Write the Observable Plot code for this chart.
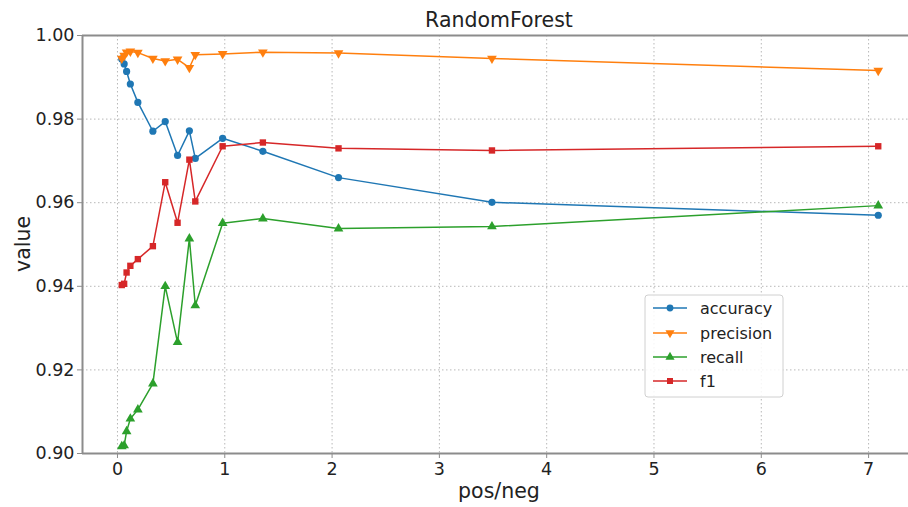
<!DOCTYPE html>
<html>
<head>
<meta charset="utf-8">
<script src="https://cdn.jsdelivr.net/npm/d3@7"></script>
<script src="https://cdn.jsdelivr.net/npm/@observablehq/plot@0.6"></script>
<style>
  html, body { margin: 0; padding: 0; background: #fff; }
  #chart { position: relative; width: 908px; height: 507px; overflow: hidden; }
  svg { font-family: "DejaVu Sans", sans-serif; }
</style>
</head>
<body>
<div id="chart"></div>
<script>
// ---- data ----
const ratios    = [0.04, 0.062, 0.085, 0.12, 0.19, 0.33, 0.445, 0.56, 0.67, 0.725, 0.98, 1.355, 2.06, 3.49, 7.09];
const accuracy  = [0.9944, 0.9932, 0.9914, 0.9884, 0.9840, 0.9771, 0.9794, 0.9713, 0.9772, 0.9706, 0.9754, 0.9723, 0.9660, 0.9601, 0.9570];
const precision = [0.9945, 0.9952, 0.9960, 0.9962, 0.9959, 0.9945, 0.9939, 0.9943, 0.9923, 0.9954, 0.9956, 0.9960, 0.9958, 0.9945, 0.9916];
const recall    = [0.9017, 0.9019, 0.9053, 0.9083, 0.9105, 0.9167, 0.9400, 0.9266, 0.9514, 0.9354, 0.9551, 0.9562, 0.9538, 0.9543, 0.9593];
const f1        = [0.9403, 0.9406, 0.9433, 0.9449, 0.9465, 0.9496, 0.9649, 0.9552, 0.9703, 0.9603, 0.9735, 0.9744, 0.9730, 0.9725, 0.9735];
const seriesNames = ["accuracy", "precision", "recall", "f1"];
const seriesColors = ["#1f77b4", "#ff7f0e", "#2ca02c", "#d62728"];
const xTicks = [0, 1, 2, 3, 4, 5, 6, 7];
const yTicks = [0.90, 0.92, 0.94, 0.96, 0.98, 1.00];
const titleText = "RandomForest";
const xLabel = "pos/neg";
const yLabel = "value";

const triangleDown = {
  draw(context, size) {
    const s = Math.sqrt(size / (Math.sqrt(3) / 4)) ;
    const h = s * Math.sqrt(3) / 2;
    context.moveTo(0, h * 2 / 3);
    context.lineTo(s / 2, -h / 3);
    context.lineTo(-s / 2, -h / 3);
    context.closePath();
  }
};
const triangleUp = {
  draw(context, size) {
    const s = Math.sqrt(size / (Math.sqrt(3) / 4));
    const h = s * Math.sqrt(3) / 2;
    context.moveTo(0, -h * 2 / 3);
    context.lineTo(s / 2, h / 3);
    context.lineTo(-s / 2, h / 3);
    context.closePath();
  }
};
const symbolRange = [d3.symbolCircle, triangleDown, triangleUp, d3.symbolSquare];

const valuesBySeries = [accuracy, precision, recall, f1];
const rows = seriesNames.flatMap((name, k) =>
  ratios.map((r, i) => ({ series: name, ratio: r, value: valuesBySeries[k][i] }))
);

const W = 908, H = 507;
const mL = 82, mR = 0, mT = 35, mB = 54;
const gridStyle = { stroke: "#b8b8b8", strokeOpacity: 1, strokeDasharray: "1.5,2.5", strokeWidth: 1 };

const plot = Plot.plot({
  width: W, height: H,
  marginLeft: mL, marginRight: mR, marginTop: mT, marginBottom: mB,
  style: { fontFamily: "DejaVu Sans, sans-serif", background: "transparent", overflow: "visible" },
  x: { domain: [-0.326, 7.372], label: null },
  y: { domain: [0.90, 1.00], label: null },
  color: { domain: seriesNames, range: seriesColors },
  symbol: { domain: seriesNames, range: symbolRange },
  marks: [
    Plot.gridX(xTicks, gridStyle),
    Plot.gridY(yTicks, gridStyle),
    Plot.line(rows, { x: "ratio", y: "value", z: "series", stroke: "series", strokeWidth: 1.5 }),
    Plot.dot(rows, { x: "ratio", y: "value", symbol: "series", fill: "series", stroke: "none", r: 3.6 }),
    Plot.axisX(xTicks, { tickSize: 5, tickPadding: 4, fontSize: 17.5, stroke: "#8c8c8c", fill: "#222", label: null }),
    Plot.axisY(yTicks, { tickSize: 5, tickPadding: 3, fontSize: 17.5, stroke: "#8c8c8c", fill: "#222", label: null, tickFormat: d3.format(".2f") }),
    Plot.ruleY([0.90], { stroke: "#8c8c8c", strokeWidth: 2 }),
    Plot.ruleY([1.00], { stroke: "#8c8c8c", strokeWidth: 2 }),
    Plot.ruleX([-0.326], { stroke: "#8c8c8c", strokeWidth: 2 })
  ]
});

document.getElementById("chart").appendChild(plot);

// ---- title, axis labels and legend (drawn into the same svg) ----
const svg = d3.select(plot);
svg.append("text").attr("x", 499).attr("y", 27).attr("text-anchor", "middle")
  .attr("font-size", 20.5).attr("fill", "#222").text(titleText);
svg.append("text").attr("x", 499).attr("y", 498).attr("text-anchor", "middle")
  .attr("font-size", 20.5).attr("fill", "#222").text(xLabel);
svg.append("text").attr("transform", "translate(30,244) rotate(-90)").attr("text-anchor", "middle")
  .attr("font-size", 20.5).attr("fill", "#222").text(yLabel);

const lg = svg.append("g");
lg.append("rect").attr("x", 645).attr("y", 295).attr("width", 138).attr("height", 102)
  .attr("rx", 3).attr("fill", "#fff").attr("fill-opacity", 0.85).attr("stroke", "#d0d0d0");
const rowY = [308, 333, 357, 381];
seriesNames.forEach((name, i) => {
  const y = rowY[i];
  lg.append("line").attr("x1", 653).attr("x2", 687).attr("y1", y).attr("y2", y)
    .attr("stroke", seriesColors[i]).attr("stroke-width", 1.5);
  lg.append("path").attr("transform", `translate(670,${y})`)
    .attr("d", d3.symbol(symbolRange[i], 36)()).attr("fill", seriesColors[i]);
  lg.append("text").attr("x", 700).attr("y", y).attr("dy", "0.35em")
    .attr("text-anchor", "start")
    .attr("font-size", 16).attr("fill", "#222").text(name);
});
</script>
</body>
</html>
